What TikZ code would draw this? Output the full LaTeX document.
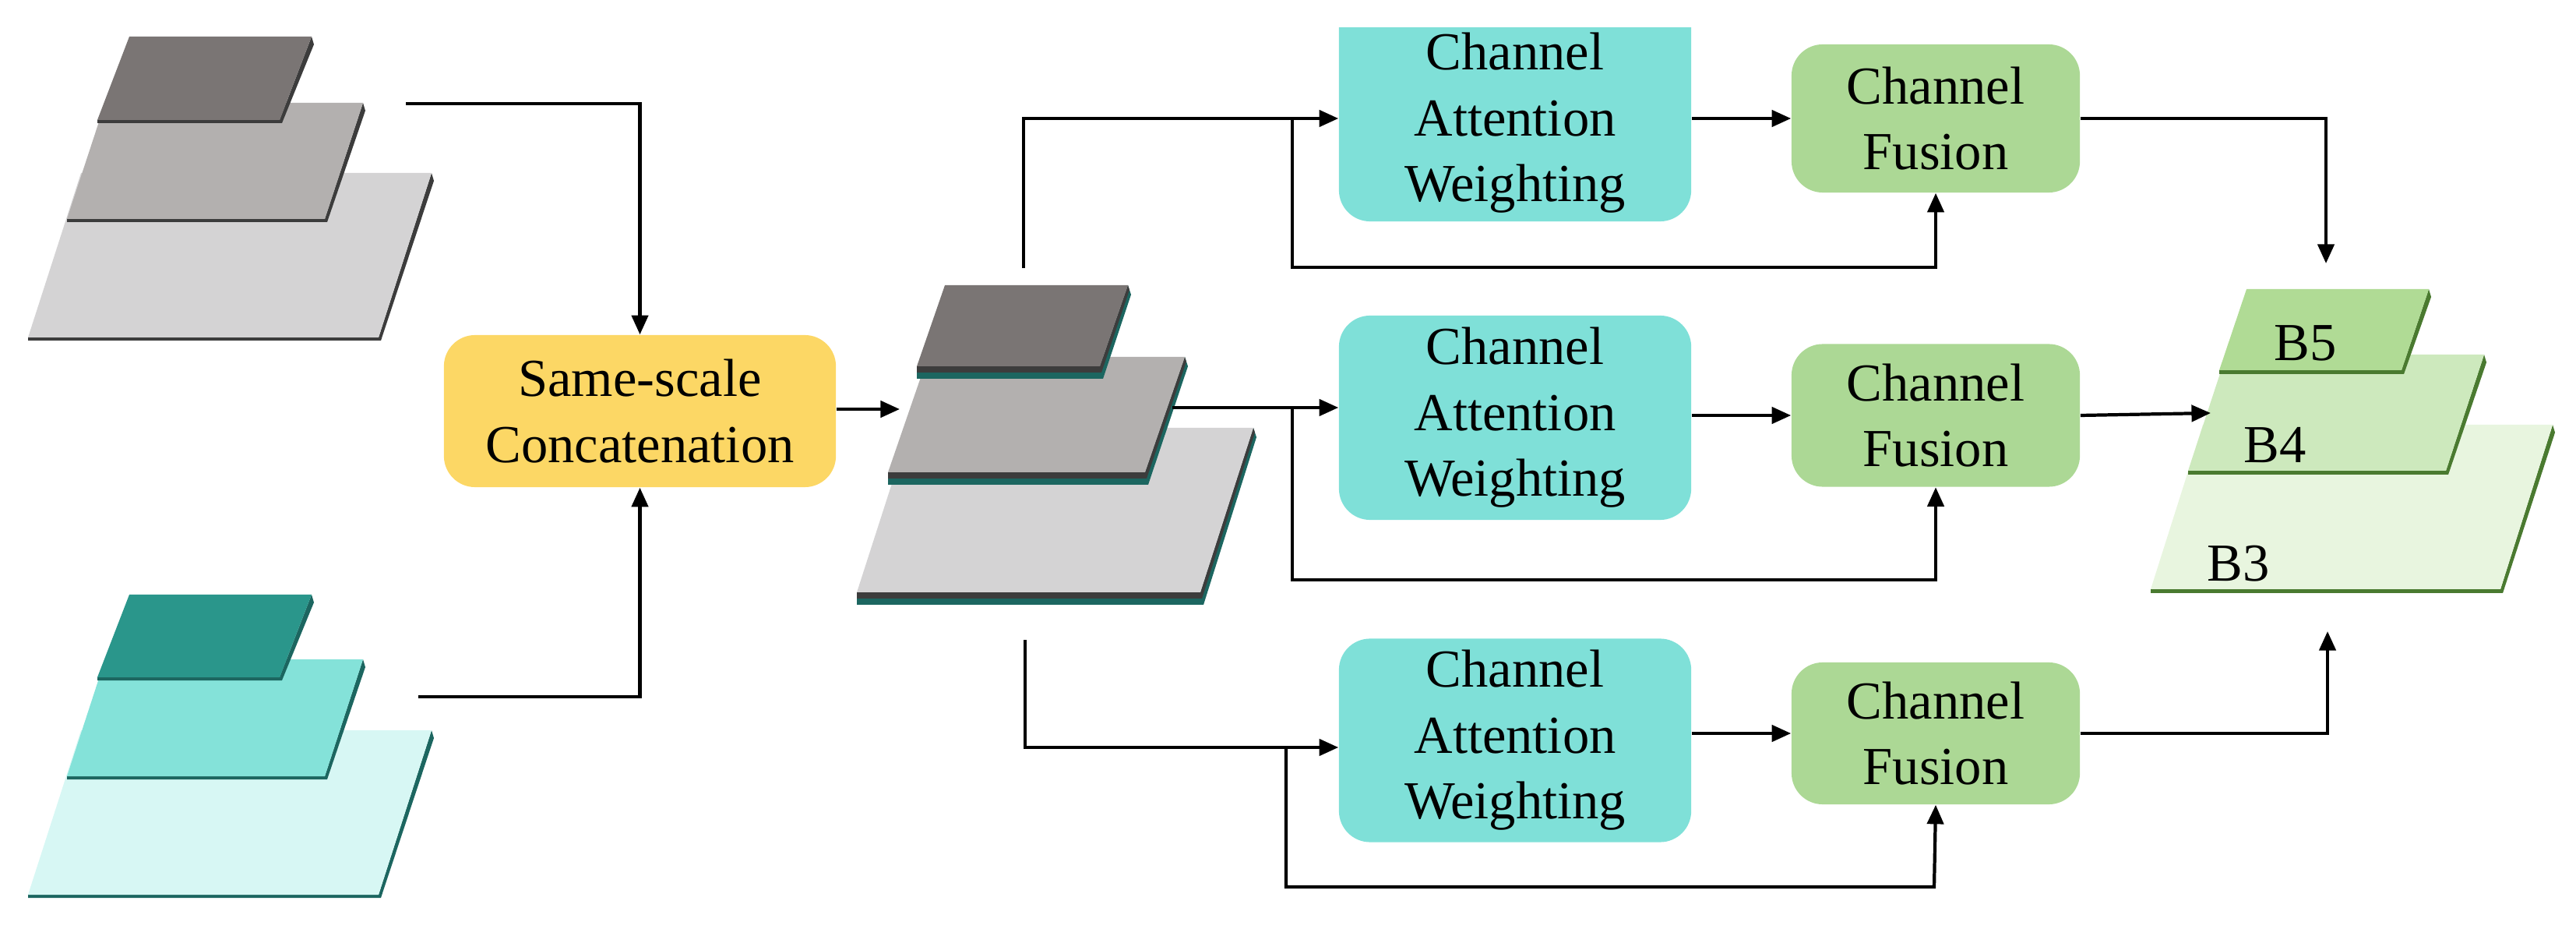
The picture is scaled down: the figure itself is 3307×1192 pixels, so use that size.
\documentclass[tikz,border=0pt]{standalone}
\usepackage{fontspec}
\setmainfont{Liberation Serif}
\usetikzlibrary{arrows.meta}
\definecolor{cssc}{HTML}{FCD765}
\definecolor{ccaw}{HTML}{7FE0D8}
\definecolor{ccf}{HTML}{ACD895}
\definecolor{gA}{HTML}{7A7574}
\definecolor{gB}{HTML}{B3B0AF}
\definecolor{gC}{HTML}{D4D3D4}
\definecolor{tA}{HTML}{2A968B}
\definecolor{tB}{HTML}{84E2D9}
\definecolor{tC}{HTML}{D7F7F4}
\definecolor{bA}{HTML}{B0DB95}
\definecolor{bB}{HTML}{CDE9BD}
\definecolor{bC}{HTML}{E8F5DF}
\definecolor{dgray}{HTML}{3C3C3C}
\definecolor{dteal}{HTML}{1C6660}
\definecolor{dgreen}{HTML}{4A7A30}
% #1 bl x, #2 br x, #3 bottom y, #4 top y, #5 shift, #6 fill, #7 edge, #8 thickness
\newcommand\lyr[8]{%
  \fill[#7] (#1,#3) -- (#2,#3) -- (#2+#5,#4) -- (#2+#5+3,#4+10) -- (#2+3,#3+#8) -- (#1,#3+#8) -- cycle;
  \fill[#6] (#1,#3) -- (#2,#3) -- (#2+#5,#4) -- (#1+#5,#4) -- cycle;}
\newcommand\lyrtwo[6]{%
  \fill[dteal] (#1,#3) -- (#2,#3) -- (#2+#5,#4) -- (#2+#5+4,#4+12) -- (#2+4,#3+16) -- (#1,#3+16) -- cycle;
  \fill[dgray] (#1,#3) -- (#2,#3) -- (#2+#5,#4) -- (#2+#5+2,#4+6) -- (#2+2,#3+8) -- (#1,#3+8) -- cycle;
  \fill[#6] (#1,#3) -- (#2,#3) -- (#2+#5,#4) -- (#1+#5,#4) -- cycle;}
\tikzset{
  box/.style={rounded corners=0.4cm, inner sep=0pt, align=center,
    font=\fontsize{19.5}{24}\selectfont},
  caw/.style={box, fill=ccaw, minimum width=4.52cm},
  cf/.style={box, fill=ccf, minimum width=3.70cm},
  conn/.style={line width=1.2pt},
  arr/.style={conn, -{Triangle[length=7pt,width=6pt]}},
  lbl/.style={font=\fontsize{19.5}{24}\selectfont, anchor=base west, inner sep=0pt}
}
\begin{document}
\begin{tikzpicture}[x=0.01cm,y=-0.01cm]
\useasboundingbox (0,0) rectangle (3307,1192);
% input stacks
\lyr{36}{486}{433}{222}{68}{gC}{dgray}{4}
\lyr{86}{417}{281}{132}{49}{gB}{dgray}{4}
\lyr{125}{359}{154}{47}{41}{gA}{dgray}{4}
\lyr{36}{486}{1148}{937}{68}{tC}{dteal}{4}
\lyr{86}{417}{996}{846}{49}{tB}{dteal}{4}
\lyr{125}{359}{869}{763}{41}{tA}{dteal}{4}
% middle stack
\lyrtwo{1100}{1541}{760}{549}{68}{gC}
\lyrtwo{1140}{1470}{606}{458}{51}{gB}
\lyrtwo{1177}{1412}{470}{366}{36}{gA}
% output stack
\lyr{2761}{3210}{756}{545}{67}{bC}{dgreen}{5}
\lyr{2809}{3140}{604}{455}{49}{bB}{dgreen}{5}
\lyr{2849}{3083}{475}{371}{35}{bA}{dgreen}{5}
\node[lbl] (b5) at (2919,463) {B5};
\node[lbl] (b4) at (2880,594) {B4};
\node[lbl] (b3) at (2833,745) {B3};
% coordinates
\coordinate (gin) at (521,133);
\coordinate (tin) at (537,894);
\coordinate (mstk) at (1155,525);
\coordinate (stop) at (1314,344);
\coordinate (smid) at (1505,523);
\coordinate (sbot) at (1316,821);
\coordinate (o5) at (2986,338);
\coordinate (o4) at (2838,530);
\coordinate (o3) at (2988,810);
% boxes
\node[box, fill=cssc, minimum width=5.03cm, minimum height=1.95cm] (ssc) at (821.5,527.5) {Same-scale\\Concatenation};
\begin{scope}
\clip (0,36) rectangle (3307,1192);
\node[caw, minimum height=3.0cm] (caw1a) at (1945,134) {};
\end{scope}
\node[inner sep=0pt, align=center, font=\fontsize{19.5}{24}\selectfont, minimum width=4.52cm, minimum height=2.5cm] (caw1) at (1945,158) {Channel\\Attention\\Weighting};
\node[caw, minimum height=2.62cm] (caw2) at (1945,536) {Channel\\Attention\\Weighting};
\node[caw, minimum height=2.61cm] (caw3) at (1945,950) {Channel\\Attention\\Weighting};
\node[cf, minimum height=1.90cm] (cf1) at (2485,152) {Channel\\Fusion};
\node[cf, minimum height=1.83cm] (cf2) at (2485,533) {Channel\\Fusion};
\node[cf, minimum height=1.82cm] (cf3) at (2485,941) {Channel\\Fusion};
% connectors
\draw[arr] (gin) -| (ssc.north);
\draw[arr] (tin) -| (ssc.south);
\draw[arr] (ssc.east |- mstk) -- (mstk);
\draw[arr] (stop) |- (caw1.west |- cf1);
\draw[arr] (1659,154) |- (2485,343) -- (cf1.south);
\draw[arr] (smid) -- (caw2.west |- smid);
\draw[arr] (1659,523) |- (2485,744) -- (cf2.south);
\draw[arr] (sbot) |- (caw3.west |- 0,959);
\draw[arr] (1651,959) |- (2483,1138) -- (cf3.south);
\draw[arr] (caw1.east |- cf1) -- (cf1.west);
\draw[arr] (caw2.east |- cf2) -- (cf2.west);
\draw[arr] (caw3.east |- cf3) -- (cf3.west);
\draw[arr] (cf1.east) -| (o5);
\draw[arr] (cf2.east) -- (o4);
\draw[arr] (cf3.east) -| (o3);
\end{tikzpicture}
\end{document}
